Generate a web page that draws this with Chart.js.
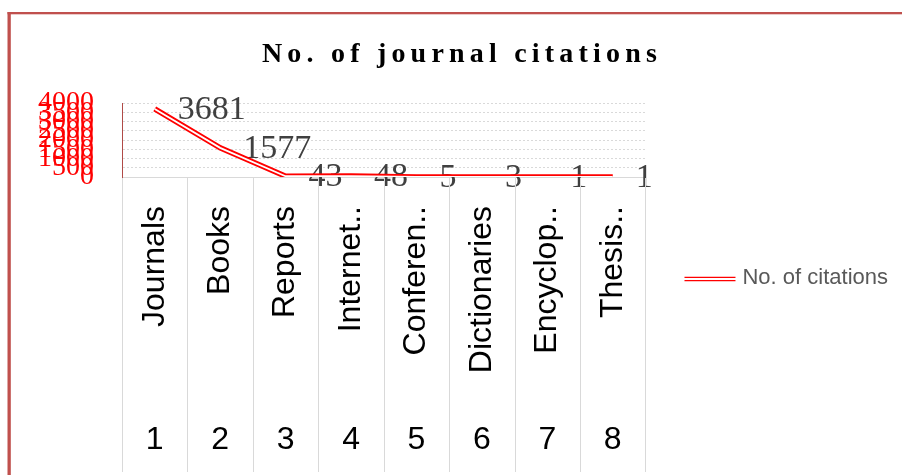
<!DOCTYPE html>
<html>
<head>
<meta charset="utf-8">
<script src="https://cdn.jsdelivr.net/npm/chart.js@4.4.1/dist/chart.umd.min.js"></script>
<style>
  html, body { margin: 0; padding: 0; background: #ffffff; }
  canvas { display: block; }
</style>
</head>
<body>
<canvas id="c" width="902" height="475"></canvas>
<script>
// ---- data ----
const chartTitle = 'No. of journal citations';
const seriesName = 'No. of citations';
const categories = ['Journals', 'Books', 'Reports', 'Internet..', 'Conferen..', 'Dictionaries', 'Encyclop..', 'Thesis..'];
const categoryNumbers = ['1', '2', '3', '4', '5', '6', '7', '8'];
const citations = [3681, 1577, 43, 48, 5, 3, 1, 1];
const yTicks = [0, 500, 1000, 1500, 2000, 2500, 3000, 3500, 4000];

Chart.defaults.font.family = '"Liberation Sans", Arial, sans-serif';

const framePlugin = {
  id: 'frame',
  beforeDraw(chart) {
    const ctx = chart.ctx;
    ctx.save();
    ctx.fillStyle = '#ffffff';
    ctx.fillRect(0, 0, chart.width, chart.height);
    ctx.fillStyle = '#c0504d';
    ctx.fillRect(7.5, 12, chart.width, 2.3);
    ctx.fillRect(7.5, 12, 3.3, chart.height);
    ctx.restore();
  }
};

const separatorPlugin = {
  id: 'separators',
  afterDraw(chart) {
    const xs = chart.scales.x;
    const ctx = chart.ctx;
    const half = (xs.getPixelForValue(1) - xs.getPixelForValue(0)) / 2;
    ctx.save();
    ctx.strokeStyle = '#d9d9d9';
    ctx.lineWidth = 1;
    for (let i = 0; i <= categories.length; i++) {
      const px = Math.round(xs.getPixelForValue(0) - half + i * 2 * half) + 0.5;
      ctx.beginPath();
      ctx.moveTo(px, chart.chartArea.bottom + 1);
      ctx.lineTo(px, 472);
      ctx.stroke();
    }
    ctx.restore();
  }
};

const labelPlugin = {
  id: 'valueLabels',
  beforeDatasetsDraw(chart) {
    const meta = chart.getDatasetMeta(0);
    const ctx = chart.ctx;
    ctx.save();
    ctx.font = '34px "Liberation Serif", "Times New Roman", serif';
    ctx.fillStyle = '#404040';
    ctx.textAlign = 'left';
    ctx.textBaseline = 'middle';
    meta.data.forEach((pt, i) => {
      ctx.fillText(String(citations[i]), pt.x + 23, pt.y + 1);
    });
    ctx.restore();
  }
};

const titleAndLegendPlugin = {
  id: 'titleLegend',
  afterDraw(chart) {
    const ctx = chart.ctx;
    ctx.save();
    ctx.font = 'bold 28px "Liberation Serif", "Times New Roman", serif';
    ctx.fillStyle = '#000000';
    ctx.textAlign = 'center';
    ctx.textBaseline = 'alphabetic';
    try { ctx.letterSpacing = '5.2px'; } catch (e) {}
    ctx.fillText(chartTitle, 462, 62);
    ctx.restore();

    const hb = chart.legend && chart.legend.legendHitBoxes && chart.legend.legendHitBoxes[0];
    if (hb) {
      const cy = hb.top + hb.height / 2 + 1.5;
      ctx.save();
      ctx.strokeStyle = '#ff0000';
      ctx.lineWidth = 1.3;
      [cy - 1.7, cy + 1.7].forEach(yy => {
        ctx.beginPath();
        ctx.moveTo(hb.left + 29, yy);
        ctx.lineTo(hb.left + 29 + 51, yy);
        ctx.stroke();
      });
      ctx.restore();
    }
  }
};

new Chart(document.getElementById('c'), {
  type: 'line',
  data: {
    labels: categories,
    datasets: [
      {
        label: seriesName,
        data: citations,
        xAxisID: 'x',
        yAxisID: 'y',
        borderColor: '#ff0000',
        borderWidth: 5.5,
        pointRadius: 0,
        tension: 0,
        fill: false,
        order: 2
      },
      {
        label: seriesName + ' inner',
        data: citations,
        xAxisID: 'x',
        yAxisID: 'y',
        borderColor: '#ffffff',
        borderWidth: 1.8,
        pointRadius: 0,
        tension: 0,
        fill: false,
        order: 1
      }
    ]
  },
  options: {
    responsive: false,
    devicePixelRatio: 1,
    animation: false,
    layout: { padding: { top: 80, right: 4, bottom: 0, left: 0 } },
    plugins: {
      title: { display: false },
      tooltip: { enabled: false },
      legend: {
        display: true,
        position: 'right',
        align: 'center',
        maxWidth: 400,
        labels: {
          boxWidth: 76,
          boxHeight: 4,
          padding: 10,
          color: '#595959',
          font: { size: 22, family: '"Liberation Sans", Arial, sans-serif' },
          generateLabels: () => [{
            text: seriesName,
            fillStyle: 'rgba(0,0,0,0)',
            strokeStyle: 'rgba(0,0,0,0)',
            lineWidth: 0,
            hidden: false,
            datasetIndex: 0,
            fontColor: '#595959'
          }]
        }
      }
    },
    scales: {
      xTop: {
        type: 'category',
        position: 'top',
        labels: categories,
        display: true,
        grid: { display: false },
        border: { display: false },
        ticks: { display: false },
        afterFit(s) { s.height = 23; }
      },
      x: {
        type: 'category',
        position: 'bottom',
        offset: true,
        weight: 0,
        grid: { display: false, drawTicks: false },
        border: { display: true, color: '#d9d9d9', width: 1 },
        ticks: {
          autoSkip: false,
          minRotation: 90,
          maxRotation: 90,
          padding: 29,
          color: '#000000',
          font: { size: 32, family: '"Liberation Sans", Arial, sans-serif' }
        },
        afterFit(s) { s.height = 223; }
      },
      x2: {
        type: 'category',
        position: 'bottom',
        labels: categoryNumbers,
        offset: true,
        weight: 1,
        grid: { display: false, drawTicks: false },
        border: { display: false },
        ticks: {
          autoSkip: false,
          maxRotation: 0,
          minRotation: 0,
          padding: 21,
          color: '#000000',
          font: { size: 32, family: '"Liberation Sans", Arial, sans-serif' }
        },
        afterFit(s) { s.height = 75; }
      },
      y: {
        type: 'linear',
        position: 'left',
        min: 0,
        max: 4000,
        afterBuildTicks(s) { s.ticks = yTicks.map(v => ({ value: v })); },
        grid: {
          drawTicks: false,
          color: (c) => (c.tick && c.tick.value === 0) ? 'rgba(0,0,0,0)' : '#d9d9d9',
          lineWidth: 1
        },
        border: { display: true, color: '#b04a47', width: 1, dash: [2, 2] },
        ticks: {
          autoSkip: false,
          padding: 28,
          color: '#ff0000',
          font: { size: 28, family: '"Liberation Serif", "Times New Roman", serif' },
          callback: (v) => String(v)
        },
        afterFit(s) { s.width = 122; }
      }
    }
  },
  plugins: [framePlugin, separatorPlugin, labelPlugin, titleAndLegendPlugin]
});
</script>
</body>
</html>
